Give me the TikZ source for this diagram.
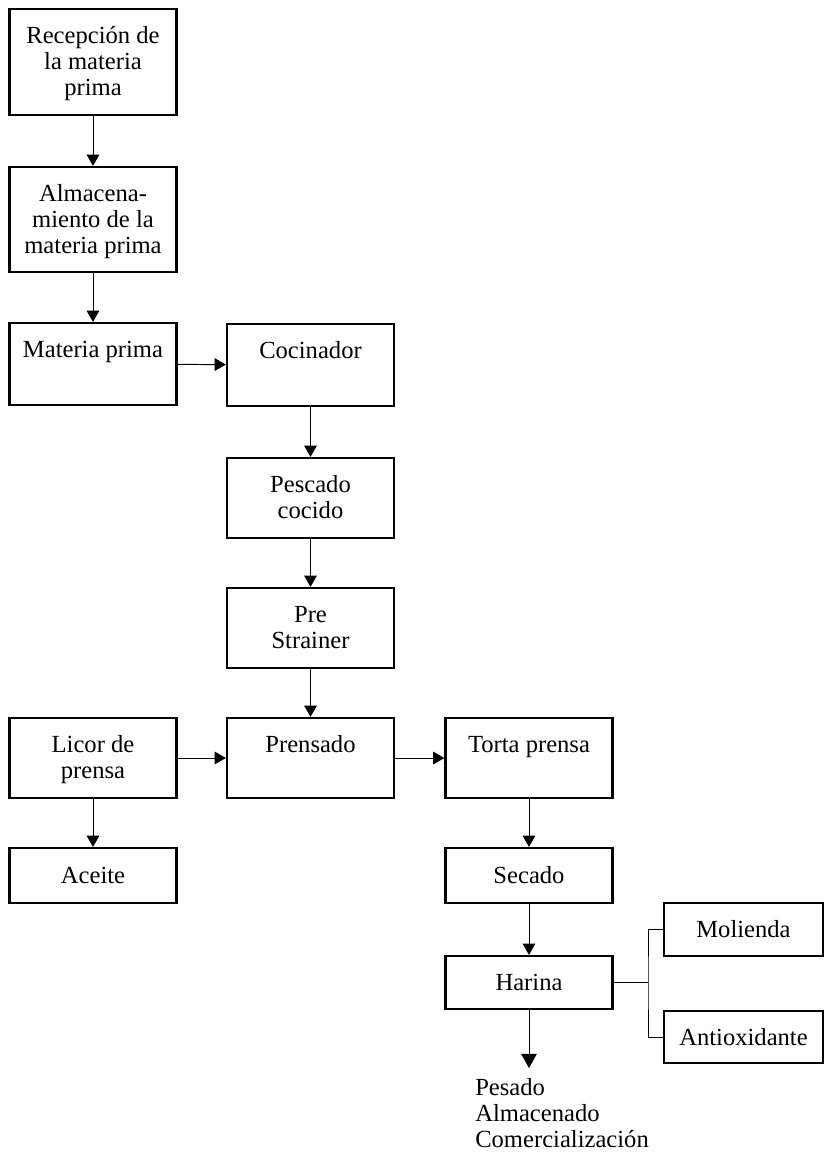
\documentclass[tikz,border=0pt]{standalone}
\usepackage{fontspec}
\setmainfont{Liberation Serif}
\usetikzlibrary{arrows.meta}
\newcommand{\topbox}[3][4.175cm]{\parbox[c][#2][t]{#1}{\centering\rule{0pt}{0.85cm}#3}}
\begin{document}
\begin{tikzpicture}[font=\fontsize{17.5}{18.5}\selectfont, step box/.style={draw,line width=1.6pt,inner sep=0pt},flat box/.style={step box,minimum width=4.175cm,minimum height=1.375cm}]
\useasboundingbox (0,0) rectangle (20.625,-28.8);
\begin{scope}
\node[step box] (recep) at (2.325,-1.55) {\topbox{2.65cm}{Recepción de\\la materia\\prima}};
\node[step box] (almac) at (2.325,-5.4875) {\topbox{2.625cm}{Almacena-\\miento de la\\materia prima}};
\node[step box] (mat) at (2.325,-9.1) {\topbox{2.05cm}{Materia prima}};
\node[step box] (coc) at (7.7625,-9.125) {\topbox{2.05cm}{Cocinador}};
\node[step box] (pes) at (7.7625,-12.45) {\topbox{2cm}{Pescado\\cocido}};
\node[step box] (pre) at (7.7625,-15.7) {\topbox{2cm}{Pre\\Strainer}};
\node[step box] (licor) at (2.325,-18.95) {\topbox{2cm}{Licor de\\prensa}};
\node[step box] (prens) at (7.7625,-18.95) {\topbox{2cm}{Prensado}};
\node[step box] (torta) at (13.225,-18.95) {\topbox{2cm}{Torta prensa}};
\node[flat box] (aceite) at (2.325,-21.8875) {Aceite};
\node[flat box] (sec) at (13.225,-21.8875) {Secado};
\node[flat box,minimum height=1.325cm] (har) at (13.225,-24.5625) {Harina};
\node[flat box,minimum width=3.975cm,minimum height=1.325cm] (mol) at (18.5875,-23.2375) {Molienda};
\node[flat box,minimum width=3.975cm,minimum height=1.3cm] (anti) at (18.5875,-25.925) {Antioxidante};
\node[anchor=north west,align=left,inner sep=0pt] (dest) at (11.875,-26.95) {Pesado\\Almacenado\\Comercialización};
\end{scope}
\coordinate (brk) at (16.2,-24.5625);
\coordinate (tip) at (13.225,-26.7);
\begin{scope}[every edge/.style={draw=black,line width=0.7pt,-{Triangle[width=9pt,length=8pt]}}]
\draw (recep) edge (almac);
\draw (almac) edge (mat);
\draw (mat) edge (coc);
\draw (coc) edge (pes);
\draw (pes) edge (pre);
\draw (pre) edge (prens);
\draw (licor) edge (prens);
\draw (prens) edge (torta);
\draw (licor) edge (aceite);
\draw (torta) edge (sec);
\draw (sec) edge (har);
\draw (har) edge[-{Triangle[width=11pt,length=10pt]}] (tip);
\end{scope}
\draw[line width=0.7pt] (har.east) -- (brk);
\draw[line width=0.7pt] (mol.west) -| (brk) |- (anti.west);
\end{tikzpicture}
\end{document}
